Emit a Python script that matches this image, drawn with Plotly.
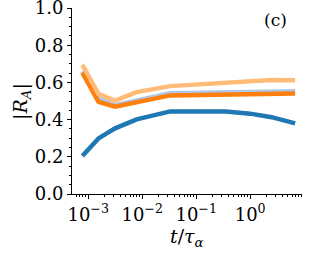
import plotly.graph_objects as go

# data
t_vals = [7.8e-4, 1.55e-3, 3.15e-3, 7.9e-3, 3.3e-2, 0.126, 0.355, 1.0, 2.5, 6.8]
blue = [0.204, 0.299, 0.353, 0.401, 0.444, 0.447, 0.444, 0.432, 0.413, 0.380]
light_blue = [0.66, 0.512, 0.478, 0.503, 0.542, 0.545, 0.548, 0.550, 0.551, 0.552]
orange = [0.652, 0.496, 0.469, 0.492, 0.530, 0.532, 0.535, 0.537, 0.539, 0.540]
light_orange = [0.695, 0.538, 0.502, 0.548, 0.580, 0.592, 0.600, 0.610, 0.613, 0.611]

series = [
    ("blue", blue, "#1f77b4"),
    ("light_blue", light_blue, "#aec7e8"),
    ("orange", orange, "#ff7f0e"),
    ("light_orange", light_orange, "#ffbb78"),
]

x_tickvals = [1e-3, 1e-2, 1e-1, 1e0]
x_ticktext = ["10<sup>−3</sup>", "10<sup>−2</sup>", "10<sup>−1</sup>", "10<sup>0</sup>"]
x_minor = [m * 10.0 ** e for e in range(-4, 1) for m in range(2, 10)]
y_tickvals = [0.0, 0.2, 0.4, 0.6, 0.8, 1.0]
y_ticktext = ["0.0", "0.2", "0.4", "0.6", "0.8", "1.0"]

FONT = "DejaVu Serif"
AFONT = "'DejaVu Serif', serif"

fig = go.Figure()
for name, vals, color in series:
    fig.add_trace(go.Scatter(x=t_vals, y=vals, mode="lines", name=name,
                             line=dict(color=color, width=4.5)))

fig.update_layout(
    width=311, height=259,
    margin=dict(l=72, r=9, t=8, b=65),
    paper_bgcolor="white", plot_bgcolor="white",
    showlegend=False,
    font=dict(family=FONT, color="black", size=18),
)
fig.update_xaxes(
    type="log", range=[-3.30, 0.96], automargin=False,
    tickmode="array", tickvals=x_tickvals, ticktext=x_ticktext,
    ticks="outside", ticklen=4, tickwidth=1, tickcolor="black",
    showline=True, linecolor="black", linewidth=1,
    showgrid=False, zeroline=False,
    tickfont=dict(family=FONT, size=18, color="black"),
    ticklabeloverflow="allow",
    minor=dict(tickvals=x_minor, ticks="outside", ticklen=2, tickwidth=0.8,
               tickcolor="black", showgrid=False),
)
fig.update_yaxes(
    range=[0, 1], automargin=False,
    tickmode="array", tickvals=y_tickvals, ticktext=y_ticktext,
    ticks="outside", ticklen=4, tickwidth=1, tickcolor="black",
    showline=True, linecolor="black", linewidth=1,
    showgrid=False, zeroline=False,
    tickfont=dict(family=FONT, size=18, color="black"),
    ticklabeloverflow="allow",
    minor=dict(dtick=0.05, ticks="outside", ticklen=2, tickwidth=0.8,
               tickcolor="black", showgrid=False),
)
fig.add_annotation(text="<i>t</i>/<i>τ</i><sub><i>α</i></sub>", x=0.5, y=-0.235,
                   xref="paper", yref="paper", yanchor="middle", showarrow=False,
                   font=dict(family=AFONT, size=19, color="black"))
fig.add_annotation(text="|<i>R</i><sub><i>A</i></sub>|", x=-0.222, y=0.5,
                   xref="paper", yref="paper", xanchor="center", yanchor="middle",
                   textangle=-90, showarrow=False,
                   font=dict(family=AFONT, size=19, color="black"))
fig.add_annotation(text="(c)", x=0.885, y=0.935, xref="paper", yref="paper",
                   xanchor="center", yanchor="middle",
                   showarrow=False, font=dict(family=AFONT, size=17, color="black"))

fig.write_html("out.html", config={"displayModeBar": False},
               post_script="document.body.style.margin='0';document.body.style.padding='0';")
